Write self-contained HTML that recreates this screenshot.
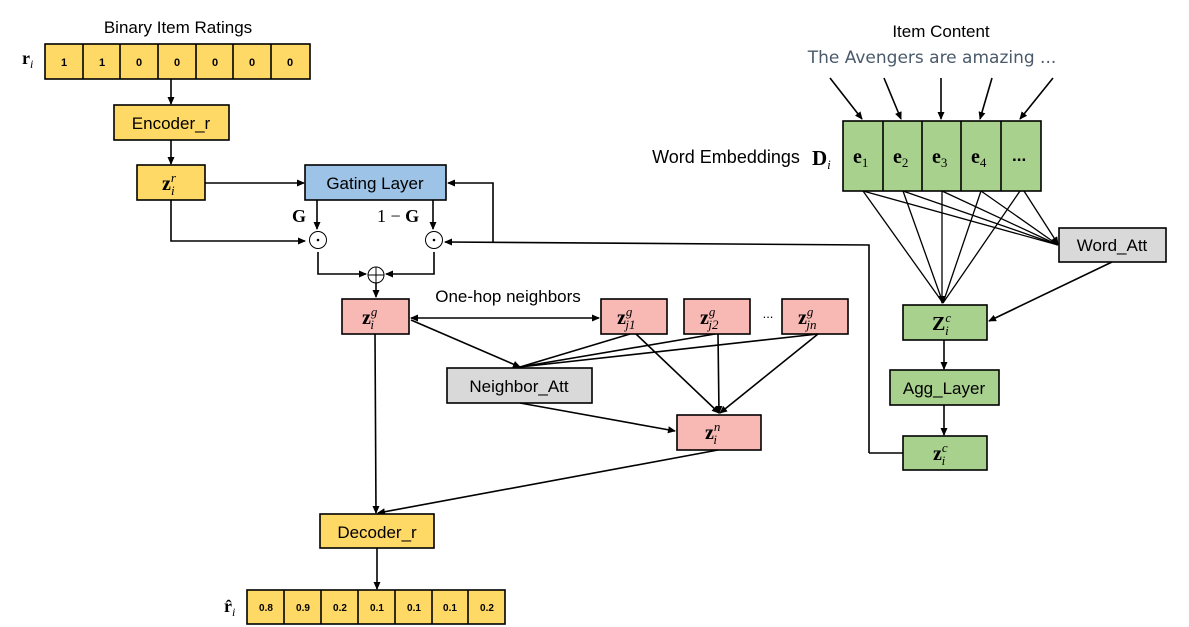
<!DOCTYPE html>
<html><head><meta charset="utf-8"><style>
html,body{margin:0;padding:0;background:#fff;}
svg{display:block;}
.s{font-family:"Liberation Sans",sans-serif;}
.m{font-family:"Liberation Serif",serif;}
</style></head><body>
<svg width="1189" height="627" viewBox="0 0 1189 627" xmlns="http://www.w3.org/2000/svg">
<defs>
<marker id="a" markerWidth="8" markerHeight="8" refX="7" refY="4" orient="auto" markerUnits="userSpaceOnUse"><path d="M0,0.5 L8,4 L0,7.5 z" fill="#000"/></marker>
<marker id="b" markerWidth="8" markerHeight="8" refX="1" refY="4" orient="auto" markerUnits="userSpaceOnUse"><path d="M8,0.5 L0,4 L8,7.5 z" fill="#000"/></marker>
</defs>
<g stroke="#000" stroke-width="1.6" fill="none">
<rect x="45" y="44" width="265" height="35" fill="#FFD966"/>
<line x1="83" y1="44" x2="83" y2="79"/><line x1="120" y1="44" x2="120" y2="79"/><line x1="158" y1="44" x2="158" y2="79"/><line x1="196" y1="44" x2="196" y2="79"/><line x1="233" y1="44" x2="233" y2="79"/><line x1="271" y1="44" x2="271" y2="79"/>
<line x1="171" y1="79" x2="171" y2="104" marker-end="url(#a)"/>
<rect x="114" y="105" width="115" height="35" fill="#FFD966"/>
<line x1="171" y1="140" x2="171" y2="164" marker-end="url(#a)"/>
<rect x="137" y="165" width="68" height="35" fill="#FFD966"/>
<line x1="205" y1="183" x2="304" y2="183" marker-end="url(#a)"/>
<rect x="305" y="165" width="141" height="35" fill="#9DC3E6"/>
<line x1="317" y1="200" x2="317" y2="229" marker-end="url(#a)"/>
<line x1="433" y1="200" x2="433" y2="229" marker-end="url(#a)"/>
<polyline points="171,200 171,241 305,241" marker-end="url(#a)"/>
<circle cx="318" cy="240" r="8.5" stroke-width="1"/>
<circle cx="434" cy="240" r="8.5" stroke-width="1"/>
<circle cx="318" cy="240" r="1.3" fill="#000" stroke="none"/>
<circle cx="434" cy="240" r="1.3" fill="#000" stroke="none"/>
<polyline points="869,453 869,245 445,242" marker-end="url(#a)"/>
<polyline points="493,242 493,183 448,183" marker-end="url(#a)"/>
<polyline points="318,252 318,274 366,274" marker-end="url(#a)"/>
<polyline points="434,252 434,274 386,274" marker-end="url(#a)"/>
<circle cx="376" cy="275" r="8" stroke-width="1"/>
<line x1="368" y1="275" x2="384" y2="275" stroke-width="1"/><line x1="376" y1="267" x2="376" y2="283" stroke-width="1"/>
<line x1="376" y1="283" x2="376" y2="297" marker-end="url(#a)"/>
<rect x="342" y="299" width="67" height="35" fill="#F8B9B5"/>
<rect x="601" y="299" width="66" height="35" fill="#F8B9B5"/>
<rect x="684" y="299" width="66" height="35" fill="#F8B9B5"/>
<rect x="782" y="299" width="66" height="35" fill="#F8B9B5"/>
<line x1="411" y1="318" x2="599" y2="318" marker-start="url(#b)" marker-end="url(#a)"/>
<rect x="447" y="368" width="145" height="35" fill="#D9D9D9"/>
<line x1="411" y1="320" x2="520" y2="367" marker-end="url(#a)"/>
<line x1="630" y1="334" x2="520" y2="367"/>
<line x1="715" y1="334" x2="520" y2="367"/>
<line x1="818" y1="334" x2="520" y2="367"/>
<rect x="677" y="415" width="84" height="35" fill="#F8B9B5"/>
<line x1="636" y1="334" x2="719" y2="413" marker-end="url(#a)"/>
<line x1="718" y1="334" x2="719" y2="413" marker-end="url(#a)"/>
<line x1="818" y1="334" x2="720" y2="413" marker-end="url(#a)"/>
<line x1="520" y1="403" x2="675" y2="431" marker-end="url(#a)"/>
<line x1="375" y1="334" x2="376" y2="513" marker-end="url(#a)"/>
<line x1="718" y1="450" x2="378" y2="513" marker-end="url(#a)"/>
<rect x="320" y="514" width="114" height="34" fill="#FFD966"/>
<line x1="377" y1="548" x2="377" y2="589" marker-end="url(#a)"/>
<rect x="247" y="590" width="258" height="34" fill="#FFD966"/>
<line x1="284" y1="590" x2="284" y2="624"/><line x1="321" y1="590" x2="321" y2="624"/><line x1="358" y1="590" x2="358" y2="624"/><line x1="395" y1="590" x2="395" y2="624"/><line x1="432" y1="590" x2="432" y2="624"/><line x1="468" y1="590" x2="468" y2="624"/>
<line x1="830" y1="78" x2="862" y2="119" marker-end="url(#a)"/>
<line x1="884" y1="78" x2="901" y2="119" marker-end="url(#a)"/>
<line x1="941" y1="78" x2="941" y2="119" marker-end="url(#a)"/>
<line x1="992" y1="78" x2="980" y2="119" marker-end="url(#a)"/>
<line x1="1053" y1="78" x2="1020" y2="119" marker-end="url(#a)"/>
<rect x="843" y="121" width="198" height="70" fill="#A9D18E"/>
<line x1="883" y1="121" x2="883" y2="191"/><line x1="922" y1="121" x2="922" y2="191"/><line x1="961" y1="121" x2="961" y2="191"/><line x1="1001" y1="121" x2="1001" y2="191"/>
<rect x="1059" y="228" width="107" height="34" fill="#D9D9D9"/>
<g stroke-width="1.3">
<line x1="863" y1="191" x2="943" y2="303"/><line x1="903" y1="191" x2="943" y2="303"/><line x1="942" y1="191" x2="942" y2="303" marker-end="url(#a)"/><line x1="981" y1="191" x2="943" y2="303"/><line x1="1020" y1="191" x2="943" y2="303"/>
<line x1="863" y1="191" x2="1058" y2="245"/><line x1="903" y1="191" x2="1058" y2="245"/><line x1="942" y1="191" x2="1058" y2="245"/><line x1="981" y1="191" x2="1058" y2="245"/><line x1="1024" y1="191" x2="1058" y2="244" marker-end="url(#a)"/>
</g>
<rect x="903" y="305" width="84" height="35" fill="#A9D18E"/>
<line x1="1112" y1="262" x2="989" y2="321" marker-end="url(#a)"/>
<line x1="944" y1="340" x2="944" y2="369" marker-end="url(#a)"/>
<rect x="890" y="370" width="109" height="35" fill="#A9D18E"/>
<line x1="944" y1="405" x2="944" y2="435" marker-end="url(#a)"/>
<rect x="903" y="436" width="84" height="34" fill="#A9D18E"/>
<line x1="869" y1="453" x2="903" y2="453"/>
</g>
<g class="s" fill="#000" text-anchor="middle">
<text x="178" y="33" font-size="17">Binary Item Ratings</text>
<g font-size="11" font-weight="bold"><text x="64" y="66">1</text><text x="102" y="66">1</text><text x="139" y="66">0</text><text x="177" y="66">0</text><text x="215" y="66">0</text><text x="252" y="66">0</text><text x="290" y="66">0</text></g>
<text x="171" y="129" font-size="17">Encoder_r</text>
<text x="375" y="189" font-size="17">Gating Layer</text>
<text x="508" y="302" font-size="17">One-hop neighbors</text>
<text x="519" y="392" font-size="17">Neighbor_Att</text>
<text x="377" y="538" font-size="17">Decoder_r</text>
<g font-size="10" font-weight="bold"><text x="266" y="611">0.8</text><text x="303" y="611">0.9</text><text x="340" y="611">0.2</text><text x="377" y="611">0.1</text><text x="414" y="611">0.1</text><text x="450" y="611">0.1</text><text x="487" y="611">0.2</text></g>
<text x="941" y="37" font-size="17">Item Content</text>
<text x="932" y="63" font-size="17" fill="#4a5a6a" font-family="'DejaVu Sans',sans-serif">The Avengers are amazing ...</text>
<text x="726" y="163" font-size="18">Word Embeddings</text>
<text x="1112" y="251" font-size="17">Word_Att</text>
<text x="944" y="394" font-size="17">Agg_Layer</text>
<text x="768" y="318" font-size="13">...</text>
</g>
<g class="m" fill="#000" font-size="20">
<text x="22" y="64" font-weight="bold" font-size="18">r<tspan font-size="12" font-style="italic" font-weight="normal" dy="4">i</tspan></text>
<text x="224" y="612" font-weight="bold" font-size="18">r̂<tspan font-size="12" font-style="italic" font-weight="normal" dy="4">i</tspan></text>
<text x="162" y="190" font-weight="bold">z<tspan font-size="13" font-style="italic" font-weight="normal" dy="-8">r</tspan><tspan font-size="13" font-style="italic" font-weight="normal" dx="-5" dy="13">i</tspan></text>
<text x="292" y="222" font-weight="bold" font-size="18">G</text>
<text x="377" y="222" font-size="18">1 − <tspan font-weight="bold">G</tspan></text>
<text x="362" y="324" font-weight="bold">z<tspan font-size="13" font-style="italic" font-weight="normal" dy="-8">g</tspan><tspan font-size="13" font-style="italic" font-weight="normal" dx="-7" dy="13">i</tspan></text>
<text x="617" y="324" font-weight="bold">z<tspan font-size="13" font-style="italic" font-weight="normal" dy="-8">g</tspan><tspan font-size="13" font-style="italic" font-weight="normal" dx="-7" dy="13">j1</tspan></text>
<text x="700" y="324" font-weight="bold">z<tspan font-size="13" font-style="italic" font-weight="normal" dy="-8">g</tspan><tspan font-size="13" font-style="italic" font-weight="normal" dx="-7" dy="13">j2</tspan></text>
<text x="798" y="324" font-weight="bold">z<tspan font-size="13" font-style="italic" font-weight="normal" dy="-8">g</tspan><tspan font-size="13" font-style="italic" font-weight="normal" dx="-7" dy="13">jn</tspan></text>
<text x="705" y="439" font-weight="bold">z<tspan font-size="13" font-style="italic" font-weight="normal" dy="-8">n</tspan><tspan font-size="13" font-style="italic" font-weight="normal" dx="-7" dy="13">i</tspan></text>
<text x="812" y="165" font-weight="bold" font-size="21">D<tspan font-size="13" font-style="italic" font-weight="normal" dy="4">i</tspan></text>
<text x="853" y="163" font-weight="bold">e<tspan font-size="13" font-weight="normal" dy="4">1</tspan></text>
<text x="893" y="163" font-weight="bold">e<tspan font-size="13" font-weight="normal" dy="4">2</tspan></text>
<text x="932" y="163" font-weight="bold">e<tspan font-size="13" font-weight="normal" dy="4">3</tspan></text>
<text x="971" y="163" font-weight="bold">e<tspan font-size="13" font-weight="normal" dy="4">4</tspan></text>
<text x="1012" y="161" font-weight="bold" font-size="17" font-family="Liberation Sans,sans-serif">...</text>
<text x="932" y="330" font-weight="bold">Z<tspan font-size="13" font-style="italic" font-weight="normal" dy="-8">c</tspan><tspan font-size="13" font-style="italic" font-weight="normal" dx="-6" dy="13">i</tspan></text>
<text x="933" y="460" font-weight="bold">z<tspan font-size="13" font-style="italic" font-weight="normal" dy="-8">c</tspan><tspan font-size="13" font-style="italic" font-weight="normal" dx="-6" dy="13">i</tspan></text>
</g>
</svg>
</body></html>
